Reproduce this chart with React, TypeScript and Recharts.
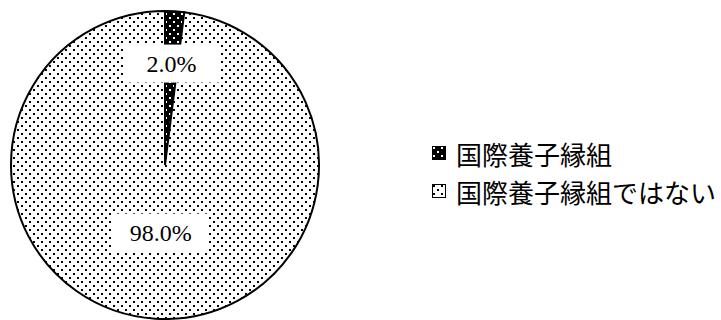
import { Cell, Legend, Pie, PieChart } from "recharts";

const categories = ["国際養子縁組", "国際養子縁組ではない"];
const shares = [2.0, 98.0];
const patternIds = ["fill-dense", "fill-sparse"];

// how far out (fraction of radius) each slice label sits
const labelDistance = [0.66, 0.44];

const chartData = categories.map((name, i) => ({ name, value: shares[i] }));

const RADIAN = Math.PI / 180;
const FONT = '"Liberation Serif", "Noto Sans CJK JP", serif';

function renderLabel(props: any) {
	const { cx, cy, midAngle, outerRadius, index } = props;
	const r = outerRadius * labelDistance[index];
	const x = cx + r * Math.cos(-midAngle * RADIAN);
	const y = cy + r * Math.sin(-midAngle * RADIAN);
	return (
		<g>
			<rect x={x - 48} y={y - 19} width={96} height={38} fill="#fff" />
			<text
				x={x}
				y={y}
				textAnchor="middle"
				dominantBaseline="central"
				fontSize={24}
				fontFamily={FONT}
				fill="#000"
			>
				{`${shares[index].toFixed(1)}%`}
			</text>
		</g>
	);
}

function LegendContent() {
	return (
		<ul style={{ listStyle: "none", margin: 0, padding: 0 }}>
			{categories.map((name, i) => (
				<li
					key={name}
					style={{
						display: "flex",
						alignItems: "center",
						height: 38,
						fontSize: 26,
						fontFamily: FONT,
						color: "#000",
					}}
				>
					<svg width={14} height={14} style={{ marginRight: 10 }}>
						<rect
							x={0.5}
							y={0.5}
							width={13}
							height={13}
							fill={`url(#${patternIds[i]})`}
							stroke="#000"
						/>
					</svg>
					<span>{name}</span>
				</li>
			))}
		</ul>
	);
}

export default function App() {
	return (
		<div style={{ position: "absolute", left: 0, top: 0, background: "#fff" }}>
			<PieChart
				width={721}
				height={320}
				margin={{ top: 0, right: 0, bottom: 0, left: 0 }}
			>
				<defs>
					<pattern id="fill-dense" width={8} height={8} patternUnits="userSpaceOnUse">
						<rect width={8} height={8} fill="#000" />
						<rect x={1} y={1} width={2} height={2} fill="#fff" />
						<rect x={5} y={5} width={2} height={2} fill="#fff" />
					</pattern>
					<pattern id="fill-sparse" width={8} height={8} patternUnits="userSpaceOnUse">
						<rect width={8} height={8} fill="#fff" />
						<rect x={1} y={1} width={2} height={2} fill="#000" />
						<rect x={5} y={5} width={2} height={2} fill="#000" />
					</pattern>
				</defs>
				<Pie
					data={chartData}
					dataKey="value"
					nameKey="name"
					cx={165}
					cy={165}
					outerRadius={154}
					startAngle={90}
					endAngle={-270}
					stroke="#000"
					strokeWidth={2}
					label={renderLabel}
					labelLine={false}
					isAnimationActive={false}
				>
					{chartData.map((d, i) => (
						<Cell key={d.name} fill={`url(#${patternIds[i]})`} />
					))}
				</Pie>
				<Legend
					layout="vertical"
					align="right"
					verticalAlign="top"
					content={LegendContent}
					wrapperStyle={{ left: 432, top: 134, right: "auto", width: 289 }}
				/>
			</PieChart>
		</div>
	);
}
